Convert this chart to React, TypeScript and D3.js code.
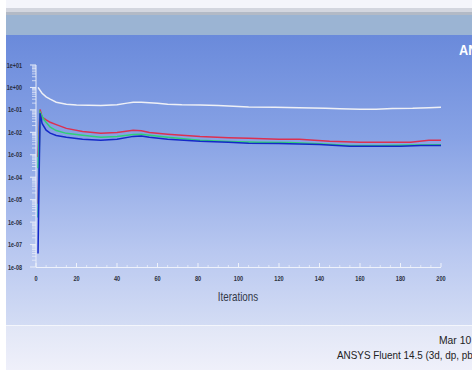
import * as d3 from 'd3';

// residual monitor (iteration, value)
const ITER_WHITE = [1, 3, 5, 7, 10, 15, 20, 26, 32, 40, 45, 48, 52, 56, 60, 65, 72, 81, 90, 105, 118, 130, 143, 150, 160, 168, 176, 186, 194, 200];
const VAL_WHITE = [1.0, 0.55, 0.38, 0.30, 0.22, 0.18, 0.165, 0.16, 0.158, 0.17, 0.2, 0.22, 0.22, 0.21, 0.2, 0.18, 0.17, 0.165, 0.158, 0.135, 0.13, 0.125, 0.118, 0.113, 0.108, 0.108, 0.115, 0.118, 0.125, 0.13];

const ITER_RED = [1, 2, 3, 5, 7, 10, 15, 23, 32, 40, 48, 52, 56, 65, 81, 95, 105, 120, 130, 145, 160, 175, 185, 194, 200];
const VAL_RED = [7.9e-4, 0.105, 0.047, 0.036, 0.028, 0.022, 0.015, 0.011, 0.009, 0.0098, 0.0123, 0.0118, 0.0098, 0.0083, 0.0066, 0.0058, 0.0054, 0.0049, 0.0049, 0.0040, 0.0036, 0.0036, 0.0036, 0.0044, 0.0044];

const ITER_GREEN = [1, 2, 4, 7, 10, 15, 23, 32, 40, 48, 52, 56, 65, 81, 95, 110, 125, 140, 155, 170, 185, 200];
const VAL_GREEN = [2.5e-4, 0.079, 0.036, 0.017, 0.012, 0.009, 0.0074, 0.006, 0.0066, 0.0081, 0.0082, 0.0074, 0.006, 0.0044, 0.0039, 0.0036, 0.0035, 0.0031, 0.0026, 0.0026, 0.0027, 0.0028];

const ITER_BLUE = [1, 2, 3, 5, 7, 10, 15, 23, 32, 40, 48, 52, 56, 65, 81, 95, 105, 120, 140, 155, 170, 180, 190, 200];
const VAL_BLUE = [4e-8, 0.071, 0.025, 0.0125, 0.0092, 0.0072, 0.006, 0.0049, 0.0044, 0.0049, 0.0066, 0.0068, 0.006, 0.0049, 0.004, 0.0036, 0.0033, 0.0032, 0.0029, 0.0024, 0.0024, 0.0024, 0.0026, 0.0026];

const ITER_MAGENTA = [1, 2, 3];
const VAL_MAGENTA = [6.5e-6, 0.09, 0.045];
const ITER_TEAL = [1, 2, 3];
const VAL_TEAL = [1.6e-6, 0.075, 0.034];

const X_TICKS = [0, 20, 40, 60, 80, 100, 120, 140, 160, 180, 200];
const Y_DECADES = [1e1, 1e0, 1e-1, 1e-2, 1e-3, 1e-4, 1e-5, 1e-6, 1e-7, 1e-8];

const SERIES = [
  { it: ITER_WHITE, v: VAL_WHITE, color: '#eef0f6' },
  { it: ITER_MAGENTA, v: VAL_MAGENTA, color: '#c0289c' },
  { it: ITER_TEAL, v: VAL_TEAL, color: '#1fa3a0' },
  { it: ITER_RED, v: VAL_RED, color: '#dc3050' },
  { it: ITER_GREEN, v: VAL_GREEN, color: '#2fcf78' },
  { it: ITER_BLUE, v: VAL_BLUE, color: '#1428c8' },
];

const fmtExp = (v: number) => {
  const e = Math.round(Math.log10(v));
  const s = e < 0 ? '-' : '+';
  return `1e${s}${String(Math.abs(e)).padStart(2, '0')}`;
};

const FONT = '"Liberation Sans", Arial, sans-serif';

// narrow text: the original uses a condensed face, squeeze horizontally
function Narrow({ x, y, sx = 0.8, anchor = 'start', size, weight = 'normal', fill, children }: any) {
  return (
    <text
      transform={`translate(${x},${y}) scale(${sx},1)`}
      textAnchor={anchor}
      fontSize={size}
      fontWeight={weight}
      fontFamily={FONT}
      fill={fill}
    >
      {children}
    </text>
  );
}

export default function App() {
  const W = 472, H = 370;
  const x = d3.scaleLinear().domain([0, 200]).range([36, 441]);
  const y = d3.scaleLog().domain([1e-8, 10]).range([267, 65]);

  const line = d3.line<[number, number]>().x(d => x(d[0])).y(d => y(d[1]));

  const minorY = y.ticks().filter(t => !Y_DECADES.some(d => Math.abs(d - t) / d < 1e-6));
  const minorX = d3.range(0, 201, 5).filter(t => t % 20 !== 0);

  return (
    <svg width={W} height={H} style={{ position: 'absolute', left: 0, top: 0, display: 'block' }}>
      <defs>
        <linearGradient id="bg" x1="0" y1="0" x2="0" y2="1">
          <stop offset="0" stopColor="#6a8adb" />
          <stop offset="0.35" stopColor="#87a2e5" />
          <stop offset="0.75" stopColor="#b9c8f0" />
          <stop offset="1" stopColor="#d3dcf4" />
        </linearGradient>
        <linearGradient id="bg2" x1="0" y1="0" x2="0" y2="1">
          <stop offset="0" stopColor="#e1e6f6" />
          <stop offset="1" stopColor="#eff0fa" />
        </linearGradient>
      </defs>
      <rect x={0} y={0} width={W} height={H} fill="#ffffff" />
      <rect x={6} y={0} width={W - 6} height={8} fill="#f4f5fb" />
      <rect x={6} y={8} width={W - 6} height={4} fill="#d3d6df" />
      <rect x={6} y={12} width={W - 6} height={3} fill="#b3bac6" />
      <rect x={6} y={15} width={W - 6} height={20} fill="#9bb4d3" />
      <rect x={6} y={35} width={W - 6} height={290} fill="url(#bg)" />
      <rect x={6} y={325} width={W - 6} height={45} fill="url(#bg2)" />
      <line x1={6} x2={W} y1={325.5} y2={325.5} stroke="#f4f6fc" strokeWidth={1} />

      <Narrow x={459} y={55} sx={0.85} size={15} weight="bold" fill="#ffffff">ANSYS</Narrow>

      {/* y axis */}
      <line x1={36} x2={36} y1={y(10)} y2={y(1e-8)} stroke="#e9eef9" strokeWidth={1} />
      {Y_DECADES.map(d => (
        <g key={d}>
          <line x1={30} x2={36} y1={y(d)} y2={y(d)} stroke="#e9eef9" />
          <Narrow x={22} y={y(d) + 2.5} sx={0.78} anchor="end" size={7} weight="bold" fill="#2a2f3d">{fmtExp(d)}</Narrow>
        </g>
      ))}
      {minorY.map(t => (
        <line key={t} x1={32} x2={36} y1={y(t)} y2={y(t)} stroke="#e9eef9" strokeOpacity={0.75} />
      ))}

      {/* x axis */}
      <line x1={x(0)} x2={x(200)} y1={267.5} y2={267.5} stroke="#eef2fb" strokeWidth={1} />
      {X_TICKS.map(t => (
        <g key={t}>
          <line x1={x(t)} x2={x(t)} y1={263} y2={267} stroke="#eef2fb" />
          <Narrow x={x(t)} y={281} sx={0.8} anchor="middle" size={7} weight="bold" fill="#2a2f3d">{t}</Narrow>
        </g>
      ))}
      {minorX.map(t => (
        <line key={t} x1={x(t)} x2={x(t)} y1={265} y2={267} stroke="#eef2fb" strokeOpacity={0.75} />
      ))}
      <Narrow x={238} y={301} sx={0.82} anchor="middle" size={12} fill="#333a48">Iterations</Narrow>

      {/* residual curves */}
      {SERIES.map((s, i) => (
        <path
          key={i}
          d={line(s.it.map((it, j) => [it, s.v[j]] as [number, number])) || ''}
          fill="none"
          stroke={s.color}
          strokeWidth={1.5}
        />
      ))}

      <Narrow x={439} y={344} sx={0.9} size={11.5} fill="#222">Mar 10</Narrow>
      <Narrow x={337} y={359} sx={0.9} size={11} fill="#222">ANSYS Fluent 14.5 (3d, dp, pbns)</Narrow>
    </svg>
  );
}
